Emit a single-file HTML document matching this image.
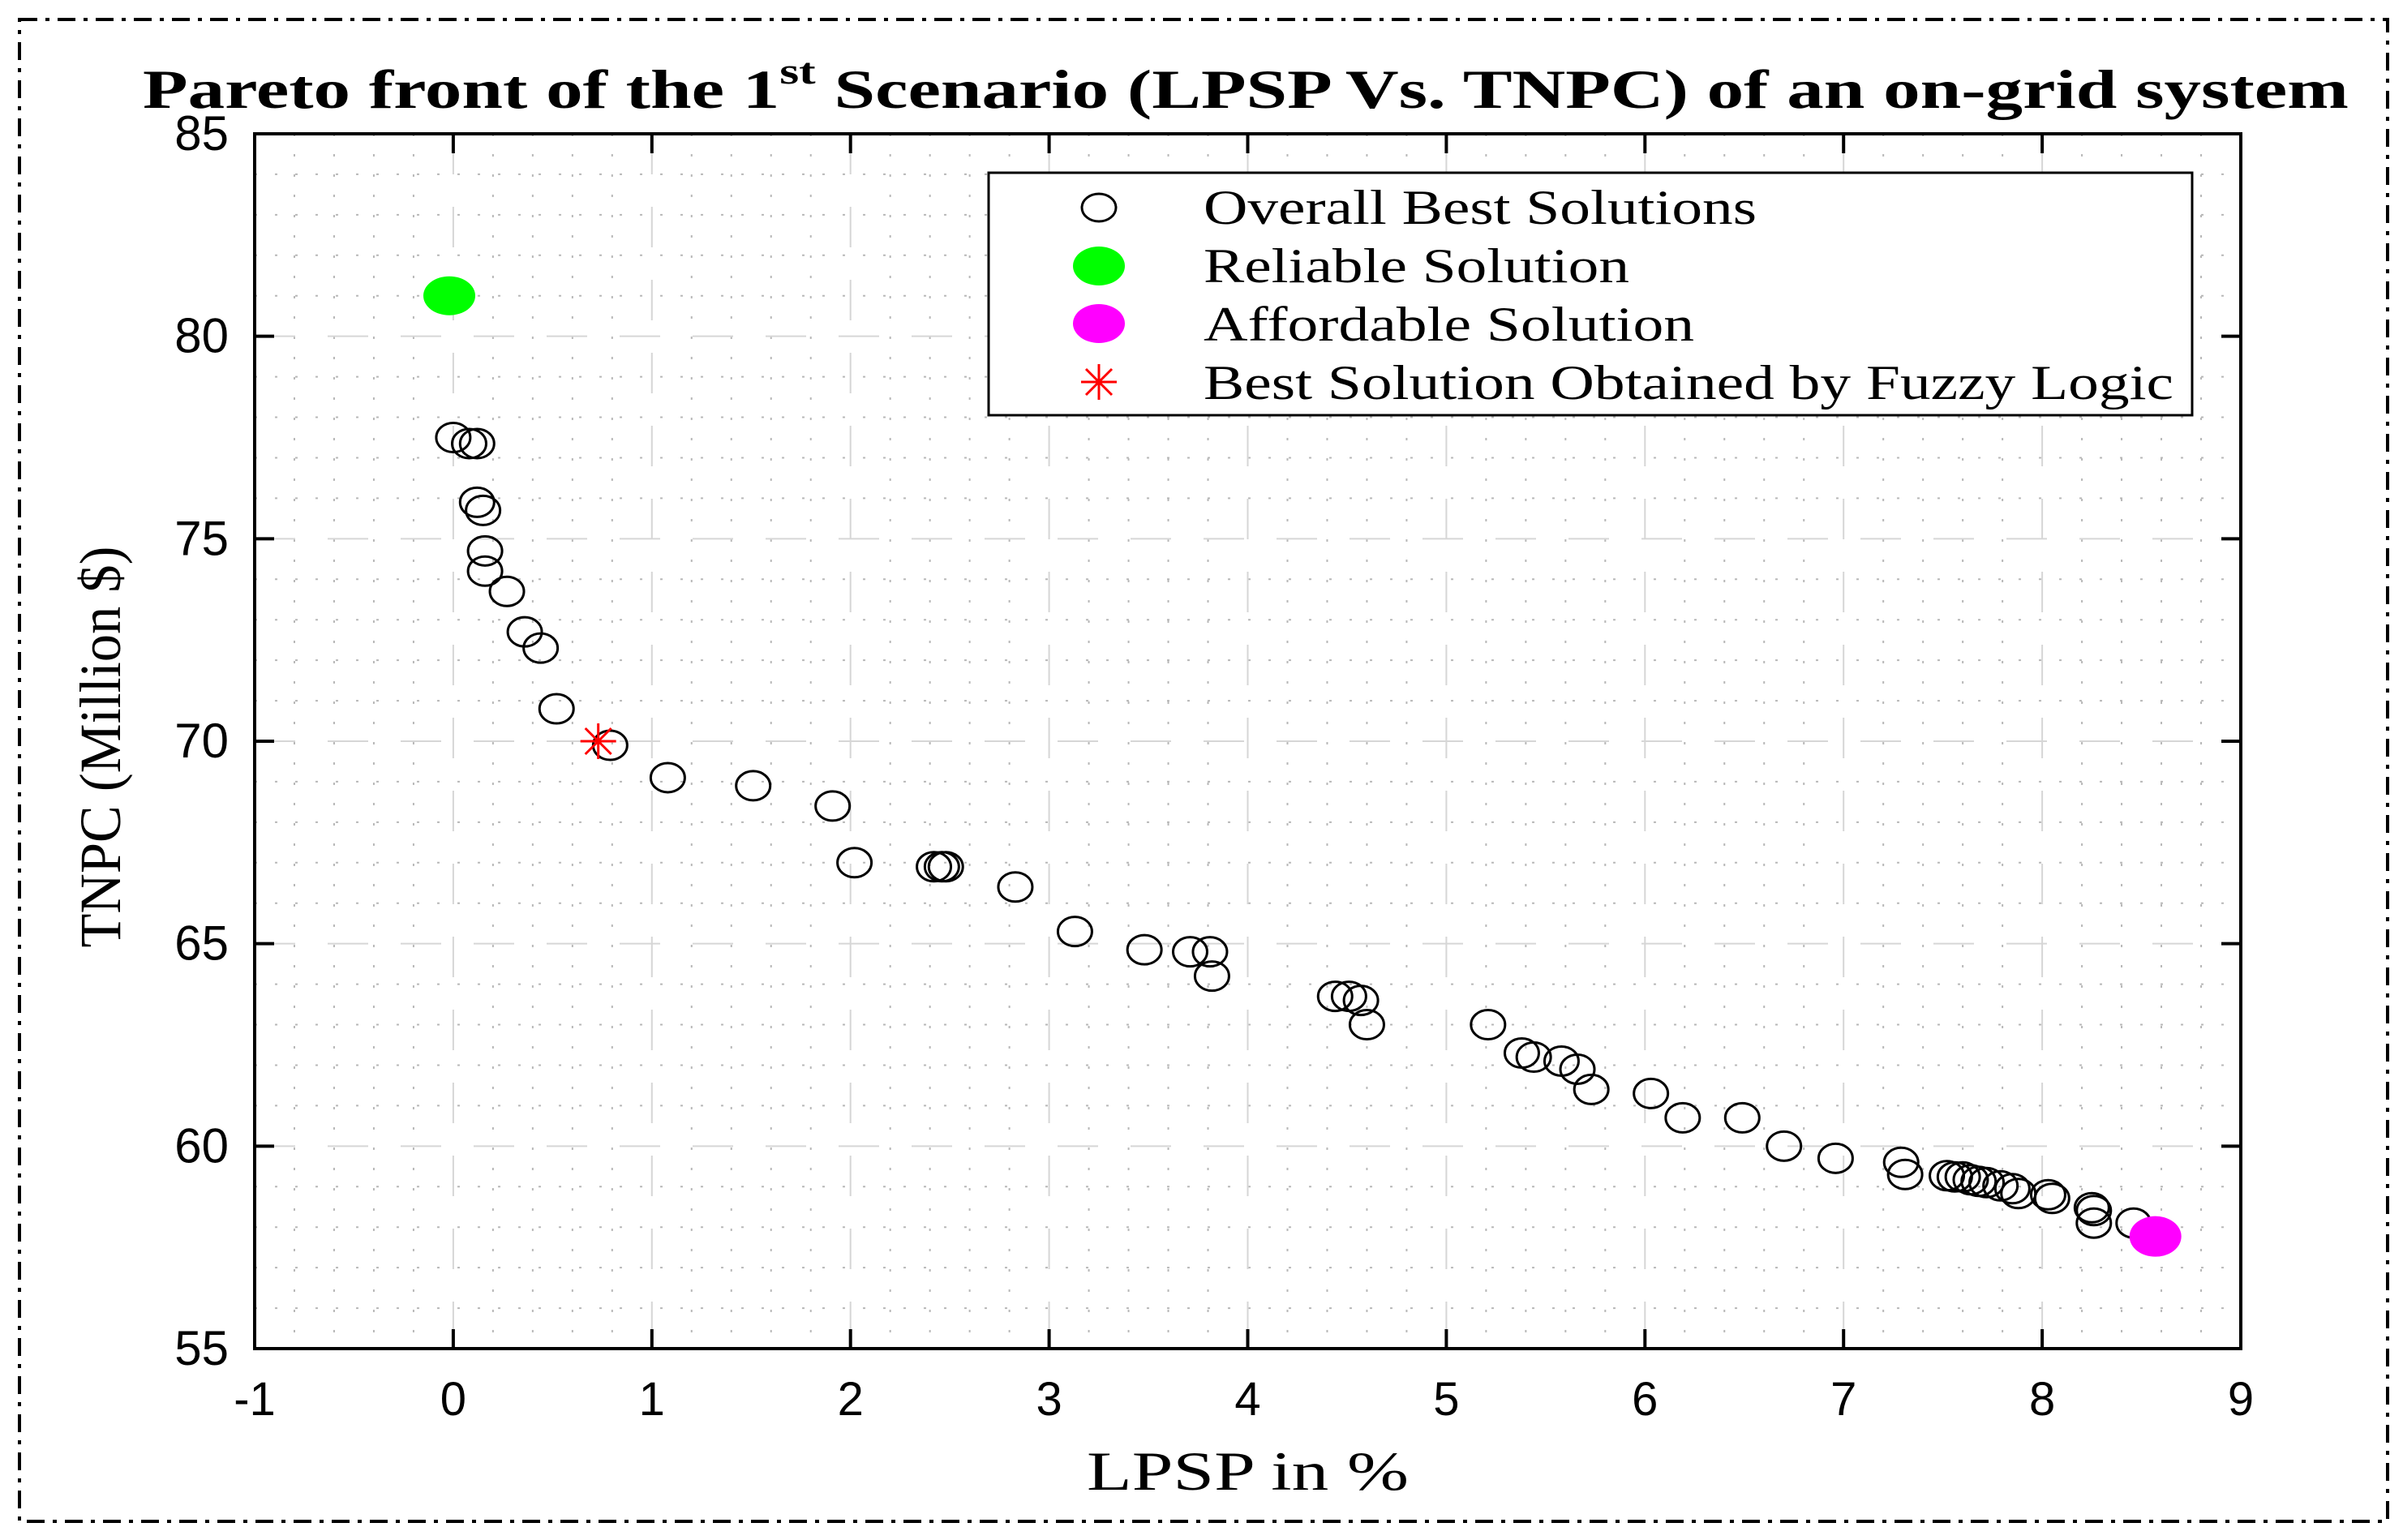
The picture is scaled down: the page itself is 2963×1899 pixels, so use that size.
<!DOCTYPE html>
<html><head><meta charset="utf-8"><style>
html,body{margin:0;padding:0;background:#fff;}
svg{display:block;}
</style></head><body>
<svg id="chart" width="2963" height="1899" viewBox="0 0 2963 1899" xmlns="http://www.w3.org/2000/svg">
<rect x="0" y="0" width="2963" height="1899" fill="#fff"/>
<rect x="24" y="24" width="2920" height="1852" fill="none" stroke="#000" stroke-width="4" stroke-dasharray="22,10,5,10"/>
<text x="176" y="133" font-family="Liberation Serif, serif" font-weight="bold" font-size="68" textLength="2720" lengthAdjust="spacingAndGlyphs">Pareto front of the 1<tspan dy="-30" font-size="46">st</tspan><tspan dy="30"> Scenario (LPSP Vs. TNPC) of an on-grid system</tspan></text>
<g id="grid"></g>
<g id="axes"></g>
<g id="points"></g>
<text x="1340" y="1837" font-family="Liberation Serif, serif" font-size="68" textLength="397" lengthAdjust="spacingAndGlyphs">LPSP in %</text>
<text transform="translate(148,921) rotate(-90)" text-anchor="middle" font-family="Liberation Serif, serif" font-size="72" textLength="495" lengthAdjust="spacingAndGlyphs">TNPC (Million $)</text>
<g>
<rect x="1219" y="213" width="1484" height="299" fill="#fff" stroke="#000" stroke-width="3"/>
<ellipse cx="1355" cy="256" rx="21" ry="17" fill="none" stroke="#000" stroke-width="3"/>
<text x="1484" y="276" font-family="Liberation Serif, serif" font-size="60" textLength="682" lengthAdjust="spacingAndGlyphs">Overall Best Solutions</text>
<ellipse cx="1355" cy="328" rx="32" ry="24" fill="#00ff00"/>
<text x="1484" y="348" font-family="Liberation Serif, serif" font-size="60" textLength="525" lengthAdjust="spacingAndGlyphs">Reliable Solution</text>
<ellipse cx="1355" cy="399" rx="32" ry="24" fill="#ff00ff"/>
<text x="1484" y="420" font-family="Liberation Serif, serif" font-size="60" textLength="605" lengthAdjust="spacingAndGlyphs">Affordable Solution</text>
<g stroke="#ff0000" stroke-width="3">
<line x1="1333" y1="471" x2="1377" y2="471"/><line x1="1355" y1="449" x2="1355" y2="493"/>
<line x1="1339" y1="455" x2="1371" y2="487"/><line x1="1339" y1="487" x2="1371" y2="455"/></g>
<text x="1484" y="492" font-family="Liberation Serif, serif" font-size="60" textLength="1196" lengthAdjust="spacingAndGlyphs">Best Solution Obtained by Fuzzy Logic</text>
</g>
</svg>
<script>
const xTicks = [-1,0,1,2,3,4,5,6,7,8,9];
const yTicks = [55,60,65,70,75,80,85];
const lpsp = [0.0,0.08,0.12,0.12,0.15,0.16,0.16,0.27,0.36,0.44,0.52,0.79,1.08,1.51,1.91,2.02,2.42,2.46,2.48,2.83,3.13,3.48,3.71,3.81,3.82,4.44,4.51,4.57,4.60,5.21,5.38,5.44,5.58,5.66,5.73,6.03,6.19,6.49,6.70,6.96,7.29,7.31,7.52,7.56,7.60,7.64,7.68,7.72,7.79,7.85,7.88,8.03,8.05,8.25,8.26,8.26,8.46];
const tnpc = [77.5,77.35,77.35,75.9,75.7,74.7,74.2,73.7,72.7,72.3,70.8,69.9,69.1,68.9,68.4,67.0,66.9,66.9,66.9,66.4,65.3,64.85,64.8,64.8,64.2,63.7,63.7,63.6,63.0,63.0,62.3,62.2,62.1,61.9,61.4,61.3,60.7,60.7,60.0,59.7,59.6,59.3,59.27,59.24,59.24,59.17,59.13,59.1,59.02,58.95,58.83,58.8,58.71,58.48,58.41,58.1,58.1];
const reliable = [-0.02, 81.0];
const affordable = [8.57, 57.77];
const fuzzy = [0.73, 70.0];

const L=314,R=2763,T=165,B=1663;
const xMin=-1,xMax=9,yMin=55,yMax=85;
const sx=v=>L+(v-xMin)/(xMax-xMin)*(R-L);
const sy=v=>B-(v-yMin)/(yMax-yMin)*(B-T);
const NS='http://www.w3.org/2000/svg';
function mk(tag,attrs,parent){const e=document.createElementNS(NS,tag);for(const k in attrs)e.setAttribute(k,attrs[k]);parent.appendChild(e);return e;}
const grid=document.getElementById('grid'),axes=document.getElementById('axes'),pts=document.getElementById('points');

for(let i=0;i<xTicks.length-1;i++){for(let j=1;j<5;j++){const v=xTicks[i]+j*0.2;
 const l=mk('line',{x1:sx(v),x2:sx(v),y1:T,y2:B,stroke:'#b8b8b8','stroke-width':2,'stroke-dasharray':'3,22'},grid);
 
 }}
for(let i=0;i<yTicks.length-1;i++){for(let j=1;j<5;j++){const v=yTicks[i]+j;
 const l=mk('line',{x1:L,x2:R,y1:sy(v),y2:sy(v),stroke:'#b8b8b8','stroke-width':2,'stroke-dasharray':'3,22'},grid);
 
 }}
xTicks.forEach(v=>{const l=mk('line',{x1:sx(v),x2:sx(v),y1:T,y2:B,stroke:'#d6d6d6','stroke-width':2,'stroke-dasharray':'50,40'},grid);
 
 });
yTicks.forEach(v=>{const l=mk('line',{x1:L,x2:R,y1:sy(v),y2:sy(v),stroke:'#d6d6d6','stroke-width':2,'stroke-dasharray':'50,40'},grid);
 
 });

const fr=mk('rect',{x:L,y:T,width:R-L,height:B-T,fill:'none',stroke:'#000','stroke-width':4},axes);


xTicks.forEach(v=>{
 mk('line',{x1:sx(v),x2:sx(v),y1:B,y2:B-24,stroke:'#000','stroke-width':4},axes);
 mk('line',{x1:sx(v),x2:sx(v),y1:T,y2:T+24,stroke:'#000','stroke-width':4},axes);
 const t=mk('text',{x:sx(v),y:1745,'text-anchor':'middle','font-family':'Liberation Sans, sans-serif','font-size':58},axes);
 t.textContent=v;
 
 
});
yTicks.forEach(v=>{
 mk('line',{x1:L,x2:L+24,y1:sy(v),y2:sy(v),stroke:'#000','stroke-width':4},axes);
 mk('line',{x1:R,x2:R-24,y1:sy(v),y2:sy(v),stroke:'#000','stroke-width':4},axes);
 const t=mk('text',{x:282,y:sy(v)+20,'text-anchor':'end','font-family':'Liberation Sans, sans-serif','font-size':60},axes);
 t.textContent=v;
 
 
});

lpsp.forEach((x,i)=>{
 const e=mk('ellipse',{cx:sx(x),cy:sy(tnpc[i]),rx:21,ry:18,fill:'none',stroke:'#000','stroke-width':3},pts);
 
 
});
const g=mk('ellipse',{cx:sx(reliable[0]),cy:sy(reliable[1]),rx:32,ry:24,fill:'#00ff00'},pts);


const m=mk('ellipse',{cx:sx(affordable[0]),cy:sy(affordable[1]),rx:32,ry:25,fill:'#ff00ff'},pts);


const fx=sx(fuzzy[0]),fy=sy(fuzzy[1]);
const fg=mk('g',{stroke:'#ff0000','stroke-width':3},pts);


mk('line',{x1:fx-22,y1:fy,x2:fx+22,y2:fy},fg);
mk('line',{x1:fx,y1:fy-22,x2:fx,y2:fy+22},fg);
mk('line',{x1:fx-16,y1:fy-16,x2:fx+16,y2:fy+16},fg);
mk('line',{x1:fx-16,y1:fy+16,x2:fx+16,y2:fy-16},fg);
</script>
</body></html>
